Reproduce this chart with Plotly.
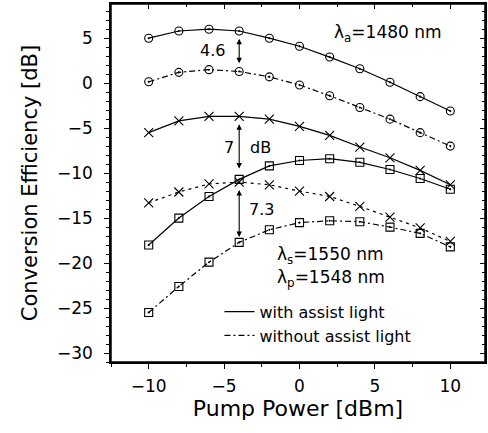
import plotly.graph_objects as go

pump = [-10, -8, -6, -4, -2, 0, 2, 4, 6, 8, 10]
circ_with = [5.0, 5.8, 6.0, 5.8, 5.0, 4.1, 2.9, 1.6, 0.1, -1.5, -3.1]
circ_without = [0.15, 1.2, 1.5, 1.3, 0.7, -0.2, -1.4, -2.7, -4.0, -5.5, -7.0]
x_with = [-5.5, -4.2, -3.7, -3.7, -4.0, -4.8, -5.8, -7.1, -8.3, -9.7, -11.3]
x_without = [-13.3, -12.1, -11.2, -11.0, -11.3, -12.0, -12.6, -13.7, -14.9, -16.1, -17.6]
sq_with = [-18.0, -15.0, -12.6, -10.7, -9.2, -8.6, -8.4, -8.8, -9.6, -10.6, -11.8]
sq_without = [-25.5, -22.6, -19.9, -17.7, -16.3, -15.5, -15.3, -15.4, -16.0, -16.7, -18.2]

FONT = "DejaVu Sans, sans-serif"
fig = go.Figure()

def add(y, sym, dash, size=8):
    fig.add_trace(go.Scatter(
        x=pump, y=y, mode="lines+markers",
        line=dict(color="black", width=1.2, dash=dash),
        marker=dict(symbol=sym, size=size, color="black",
                    line=dict(color="black", width=1.1)),
        showlegend=False, hoverinfo="skip"))

DASHDOT = "6px,3px,2px,3px"
add(circ_with, "circle-open-dot", "solid")
add(circ_without, "circle-open-dot", DASHDOT)
add(x_with, "x-thin-open", "solid", size=9)
add(x_without, "x-thin-open", "3px,4px", size=9)
add(sq_with, "square-open-dot", "solid")
add(sq_without, "square-open-dot", DASHDOT)

fig.add_trace(go.Scatter(x=[None], y=[None], mode="lines", name="with assist light",
                         line=dict(color="black", width=1.2), legendgroup="a"))
fig.add_trace(go.Scatter(x=[None], y=[None], mode="lines", name="without assist light",
                         line=dict(color="black", width=1.2, dash=DASHDOT), legendgroup="b"))

xr = [-12.5, 12.3]
yr = [-31, 8.8]

fig.add_trace(go.Scatter(x=[xr[0] - 50], y=[yr[0] - 50], xaxis="x2", yaxis="y2", mode="markers",
                         marker=dict(opacity=0), showlegend=False, hoverinfo="skip"))

common = dict(showgrid=False, zeroline=False, showline=True, linecolor="black",
              linewidth=1.5, tickcolor="black", tickwidth=1.2, ticklen=5)
fig.update_layout(
    width=488, height=433,
    margin=dict(l=111, r=3, t=4, b=71),
    paper_bgcolor="white", plot_bgcolor="white",
    font=dict(family=FONT, color="black"),
    xaxis=dict(range=xr, tickmode="linear", tick0=0, dtick=5, ticks="outside",
               tickfont=dict(size=17), ticklabelstandoff=3,
               minor=dict(dtick=2.5, tick0=0, ticks="outside", ticklen=3, tickcolor="black", tickwidth=1),
               title=dict(text="Pump Power [dBm]", font=dict(size=22), standoff=5), **common),
    yaxis=dict(range=yr, tickmode="linear", tick0=0, dtick=5, ticks="outside",
               tickfont=dict(size=17), ticklabelstandoff=8,
               minor=dict(dtick=1, tick0=0, ticks="outside", ticklen=3, tickcolor="black", tickwidth=1),
               title=dict(text="Conversion Efficiency [dB]", font=dict(size=21), standoff=14), **common),
    xaxis2=dict(range=xr, overlaying="x", anchor="y", side="top", tickmode="linear", tick0=0, dtick=5,
                ticks="inside", showticklabels=False,
                minor=dict(dtick=2.5, tick0=0, ticks="inside", ticklen=3, tickcolor="black", tickwidth=1),
                **common),
    yaxis2=dict(range=yr, overlaying="y", anchor="x", side="right", tickmode="linear", tick0=0, dtick=5,
                ticks="inside", showticklabels=False,
                minor=dict(dtick=1, tick0=0, ticks="inside", ticklen=3, tickcolor="black", tickwidth=1),
                **common),
    legend=dict(x=0.29, y=0.188, xanchor="left", yanchor="top", bgcolor="rgba(0,0,0,0)",
                font=dict(size=16), tracegroupgap=0, itemwidth=30),
)

fig.add_shape(type="rect", xref="paper", yref="paper", x0=0, x1=1, y0=0, y1=1,
              line=dict(color="black", width=1.5), fillcolor="rgba(0,0,0,0)", layer="above")

idx = pump.index(-4)
def darrow(y_top, y_bot, gap_t, gap_b):
    fig.add_annotation(x=-4, y=y_bot + gap_b, ax=-4, ay=y_top - gap_t, axref="x", ayref="y",
                       xref="x", yref="y", text="", showarrow=True, arrowhead=2, startarrowhead=2,
                       arrowside="end+start", arrowsize=1, arrowwidth=1.1, arrowcolor="black")

darrow(circ_with[idx], circ_without[idx], 0.7, 0.9)
darrow(x_with[idx], sq_with[idx], 0.7, 1.2)
darrow(x_without[idx], sq_without[idx], 0.7, 0.6)

ann = dict(showarrow=False, font=dict(size=16, family=FONT, color="black"))
fig.add_annotation(x=-5.8, y=3.6, text="4.6", **ann)
fig.add_annotation(x=-4.7, y=-7.1, text="7", **ann)
fig.add_annotation(x=-2.6, y=-7.1, text="dB", **ann)
fig.add_annotation(x=-2.55, y=-14.1, text="7.3", **ann)

ann2 = dict(showarrow=False, font=dict(size=17, family=FONT, color="black"), xanchor="left")
fig.add_annotation(x=2.15, y=5.5, text="λ<sub>a</sub>=1480 nm", **ann2)
fig.add_annotation(x=-1.6, y=-19.2, text="λ<sub>s</sub>=1550 nm", **ann2)
fig.add_annotation(x=-1.6, y=-21.7, text="λ<sub>p</sub>=1548 nm", **ann2)

fig.write_html("out.html")
